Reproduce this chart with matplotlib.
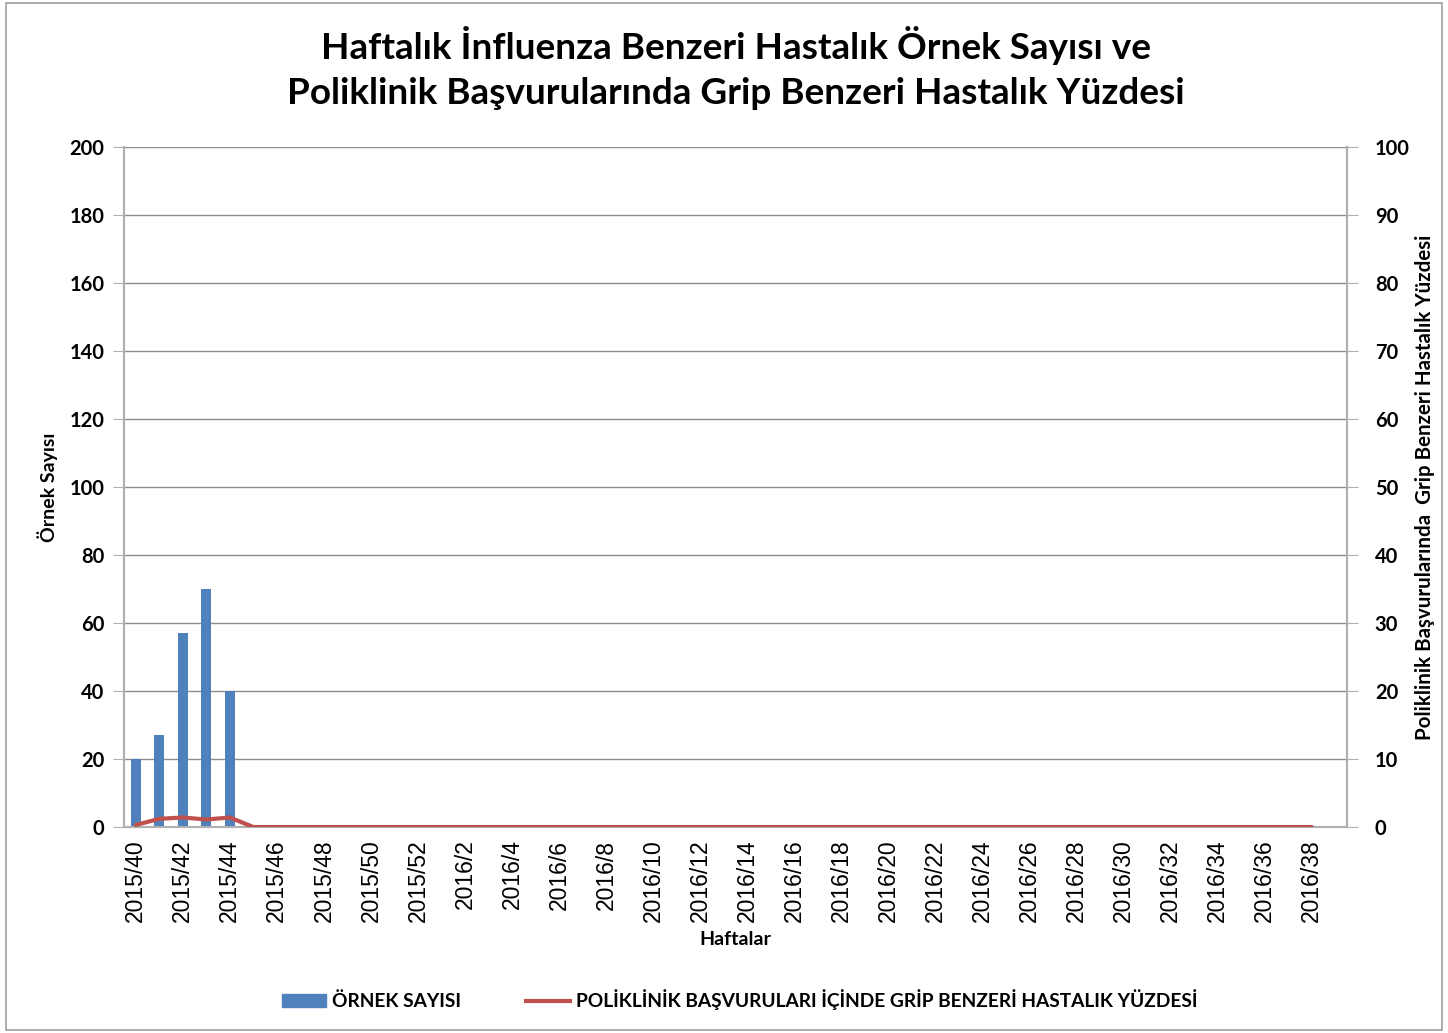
import numpy as np
import matplotlib.pyplot as plt
from matplotlib.patches import Rectangle

plt.rcParams['font.family'] = ['Lato', 'DejaVu Sans']

# weeks 2015/40..2015/52 and 2016/1..2016/39
weeks = [f'2015/{w}' for w in range(40, 53)] + [f'2016/{w}' for w in range(1, 40)]
n_weeks = len(weeks)

sample_counts = [20, 27, 57, 70, 40] + [0] * (n_weeks - 5)
ili_percent = [0.3, 1.2, 1.4, 1.1, 1.4] + [0.0] * (n_weeks - 6) + [np.nan]

title = 'Haftalık İnfluenza Benzeri Hastalık Örnek Sayısı ve\nPoliklinik Başvurularında Grip Benzeri Hastalık Yüzdesi'
bar_label = 'ÖRNEK SAYISI'
line_label = 'POLİKLİNİK BAŞVURULARI İÇİNDE GRİP BENZERİ HASTALIK YÜZDESİ'

blue = '#4f81bd'
red = '#c0504d'
grid_c = '#8c8c8c'
spine_c = '#b0b0b0'

fig = plt.figure(figsize=(14.48, 10.33), dpi=100)
fig.patches.append(Rectangle((0.004, 0.003), 0.992, 0.994, transform=fig.transFigure,
                             fill=False, edgecolor='#a0a0a0', linewidth=1.2))

ax = fig.add_axes([124 / 1448, 1 - 827 / 1033, (1347 - 124) / 1448, (827 - 147) / 1033])
x = np.arange(n_weeks)
ax.bar(x, sample_counts, width=0.42, color=blue, zorder=3)
ax.set_xlim(-0.5, n_weeks - 0.5)
ax.set_ylim(0, 200)
ax.set_yticks(np.arange(0, 201, 20))
ax.yaxis.grid(True, color=grid_c, linewidth=1)
ax.set_axisbelow(True)
ax.set_xticks(x[::2])
ax.set_xticklabels(weeks[::2], rotation=90, fontsize=16.5, fontfamily=['Liberation Sans'])
ax.tick_params(axis='x', length=0, pad=9)
ax.tick_params(axis='y', length=8, color=spine_c, labelsize=14.5, pad=6)
for lab in ax.get_yticklabels():
    lab.set_fontweight('bold')
ax.spines['top'].set_visible(False)
for s in ['left', 'right', 'bottom']:
    ax.spines[s].set_color(spine_c)
    ax.spines[s].set_linewidth(1.5)
ax.set_ylabel('Örnek Sayısı', fontsize=14, fontweight='bold')
ax.yaxis.set_label_coords(-0.054, 0.5)
ax.set_xlabel('Haftalar', fontsize=14, fontweight='bold', labelpad=6)

ax2 = ax.twinx()
ax2.plot(x, ili_percent, color=red, linewidth=3, zorder=4, solid_capstyle='round')
ax2.set_ylim(0, 100)
ax2.set_yticks(np.arange(0, 101, 10))
ax2.tick_params(axis='y', length=8, color=spine_c, labelsize=14.5, pad=12)
for lab in ax2.get_yticklabels():
    lab.set_fontweight('bold')
ax2.spines['top'].set_visible(False)
for s in ['left', 'right', 'bottom']:
    ax2.spines[s].set_color(spine_c)
    ax2.spines[s].set_linewidth(1.5)
ax2.set_ylabel('Poliklinik Başvurularında  Grip Benzeri Hastalık Yüzdesi', fontsize=14.8,
               fontweight='bold')
ax2.yaxis.set_label_coords(1.0555, 0.5)

fig.text(0.508, 0.934, title, ha='center', va='center', fontsize=26.6, fontweight='bold',
         linespacing=1.45)

handles = [Rectangle((0, 0), 1, 1, color=blue), plt.Line2D([], [], color=red, linewidth=3)]
fig.legend(handles, [bar_label, line_label], loc='center', bbox_to_anchor=(0.511, 0.032),
           ncol=2, frameon=False, handlelength=2.3, handletextpad=0.3,
           columnspacing=3.4, prop={'weight': 'bold', 'size': 13.8})

fig.savefig('out.png', dpi=100)
